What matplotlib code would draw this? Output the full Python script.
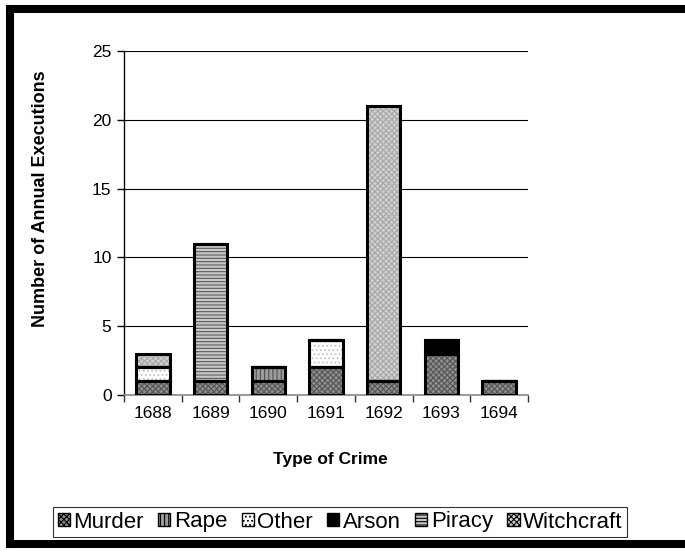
import matplotlib
matplotlib.use("Agg")
import matplotlib.pyplot as plt
from matplotlib.patches import Patch
from matplotlib.lines import Line2D
import numpy as np

plt.rcParams['font.family'] = ['Liberation Sans', 'DejaVu Sans']
plt.rcParams['hatch.linewidth'] = 0.8

years = ['1688', '1689', '1690', '1691', '1692', '1693', '1694']
crimes = ['Murder', 'Rape', 'Other', 'Arson', 'Piracy', 'Witchcraft']
murder     = [1, 1, 1, 2, 1, 3, 1]
rape       = [0, 0, 1, 0, 0, 0, 0]
other      = [1, 0, 0, 2, 0, 0, 0]
arson      = [0, 0, 0, 0, 0, 1, 0]
piracy     = [0, 10, 0, 0, 0, 0, 0]
witchcraft = [1, 0, 0, 0, 20, 0, 0]
series = [murder, rape, other, arson, piracy, witchcraft]

# face colour, hatch, hatch colour
styles = [('#8e8e8e', 'xxxxxx', '#555555'),
          ('#9c9c9c', '||||', '#505050'),
          ('#ffffff', '....', '#c4c4c4'),
          ('#000000', '', '#000000'),
          ('#c8c8c8', '-----', '#5a5a5a'),
          ('#d0d0d0', 'xxxxxx', '#a8a8a8')]

fig = plt.figure(figsize=(6.85, 5.54), dpi=100)
ax = fig.add_axes([124/685, 1-395/554, 404/685, 344/554])

x = np.arange(len(years))
w = 0.58
bottom = np.zeros(len(years))
for vals, (fc, hatch, hc) in zip(series, styles):
    vals = np.array(vals, dtype=float)
    ax.bar(x, vals, w, bottom=bottom, color=fc, hatch=hatch, edgecolor=hc, linewidth=0, zorder=3)
    ax.bar(x, vals, w, bottom=bottom, fill=False, edgecolor='black', linewidth=2.2, zorder=4)
    bottom += vals

ax.set_xlim(-0.5, len(years) - 0.5)
ax.set_ylim(0, 25)
ax.set_yticks([0, 5, 10, 15, 20, 25])
ax.yaxis.grid(True, color='black', linewidth=0.8, zorder=0)
ax.set_axisbelow(True)

ax.set_xticks(np.arange(-0.5, len(years)), minor=False)
ax.set_xticklabels([])
ax.set_xticks(x, minor=True)
ax.set_xticklabels(years, minor=True)
ax.tick_params(axis='x', which='major', direction='out', length=5, width=1, color='#333333')
ax.tick_params(axis='x', which='minor', length=0, labelsize=12.5, pad=8)
ax.tick_params(axis='y', direction='out', length=5, width=1, labelsize=12.5, pad=4)

for s in ['top', 'right']:
    ax.spines[s].set_visible(False)
ax.spines['left'].set_linewidth(1)
ax.spines['bottom'].set_color('#888888')
ax.spines['bottom'].set_linewidth(1.2)

ax.set_ylabel('Number of Annual Executions', fontsize=13, fontweight='bold')
ax.yaxis.set_label_coords(-0.186, 0.57)
ax.set_xlabel('Type of Crime', fontsize=12.5, fontweight='bold')
ax.xaxis.set_label_coords(0.51, -0.165)

handles = [Patch(facecolor=fc, hatch=h, edgecolor='black', linewidth=1) for fc, h, hc in styles]
leg = fig.legend(handles, crimes, loc='center', bbox_to_anchor=(340/685, 1-522/554), ncol=6,
                 fontsize=16, frameon=True, fancybox=False, handlelength=0.55, handleheight=0.55,
                 handletextpad=0.15, columnspacing=0.65, borderpad=0.2, borderaxespad=0)
leg.get_frame().set_edgecolor('black')
leg.get_frame().set_linewidth(0.8)

# thick outer border (top, left, bottom)
lw = 5.8
xl, xr = 10/685, 1.0
yt, yb = 1-9/554, 1-544/554
for xs, ys in [([xl, xr], [yt, yt]), ([xl, xl], [yb, yt]), ([xl, xr], [yb, yb])]:
    fig.add_artist(Line2D(xs, ys, transform=fig.transFigure, color='black',
                          linewidth=lw, solid_capstyle='projecting'))

fig.savefig('out.png', dpi=100)
